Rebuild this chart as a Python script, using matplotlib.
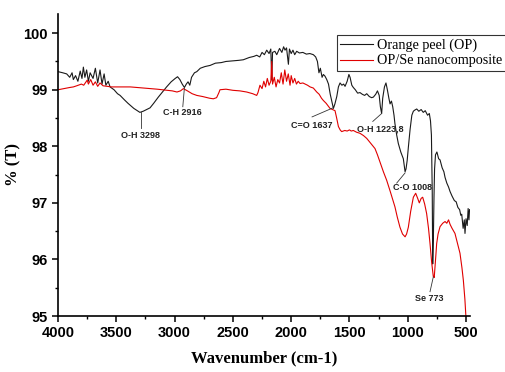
import matplotlib.pyplot as plt
from matplotlib.ticker import MultipleLocator

# FTIR spectra
op_wn = [4000, 3960, 3926, 3900, 3880, 3869, 3850, 3830, 3810, 3795, 3783, 3770, 3755, 3740,
         3725, 3700, 3680, 3660, 3640, 3623, 3605, 3590, 3570, 3554, 3520, 3490, 3468, 3430,
         3400, 3383, 3350, 3320, 3298, 3270, 3240, 3211, 3180, 3140, 3105, 3069, 3030, 2995,
         2975, 2955, 2935, 2916, 2900, 2885, 2870, 2855, 2830, 2810, 2780, 2740, 2696, 2650,
         2600, 2560, 2500, 2450, 2411, 2360, 2320, 2296, 2270, 2250, 2230, 2210, 2190, 2175,
         2167, 2160, 2140, 2124, 2100, 2080, 2065, 2053, 2040, 2024, 2015, 2000, 1985, 1970,
         1953, 1930, 1900, 1870, 1840, 1810, 1790, 1775, 1762, 1750, 1735, 1724, 1710, 1695,
         1680, 1665, 1652, 1638, 1625, 1609, 1595, 1581, 1565, 1550, 1538, 1520, 1505, 1495,
         1480, 1467, 1450, 1430, 1410, 1390, 1370, 1352, 1330, 1310, 1295, 1275, 1260, 1245,
         1235, 1224, 1215, 1200, 1187, 1175, 1162, 1152, 1140, 1129, 1118, 1110, 1095, 1081,
         1060, 1038, 1023, 1015, 1005, 995, 980, 965, 952, 940, 923, 905, 885, 867, 850, 830,
         815, 805, 797, 790, 786, 780, 775, 770, 762, 750, 735, 723, 705, 690, 680, 665, 650,
         637, 620, 600, 585, 570, 555, 545, 537, 525, 515, 509, 500, 490, 482, 475, 470]
op_t = [99.32, 99.30, 99.28, 99.22, 99.30, 99.18, 99.25, 99.15, 99.33, 99.20, 99.40, 99.22,
        99.35, 99.15, 99.30, 99.20, 99.38, 99.12, 99.35, 99.10, 99.28, 99.08, 99.15, 99.05,
        99.00, 98.93, 98.90, 98.82, 98.76, 98.73, 98.67, 98.63, 98.60, 98.62, 98.65, 98.68,
        98.76, 98.87, 98.96, 99.05, 99.14, 99.20, 99.23, 99.18, 99.10, 99.04, 99.10, 99.14,
        99.08, 99.22, 99.30, 99.32, 99.38, 99.41, 99.43, 99.47, 99.48, 99.50, 99.51, 99.52,
        99.53, 99.57, 99.59, 99.61, 99.58, 99.66, 99.62, 99.70, 99.64, 99.72, 99.17, 99.66,
        99.68, 99.62, 99.73, 99.66, 99.76, 99.70, 99.74, 99.45, 99.72, 99.64, 99.70, 99.62,
        99.68, 99.65, 99.66, 99.63, 99.64, 99.62, 99.58, 99.50, 99.30, 99.38, 99.22, 99.27,
        99.24, 99.18, 99.10, 98.92, 98.80, 98.67, 98.75, 98.88, 99.05, 99.12, 99.08, 99.10,
        99.06, 99.15, 99.27, 99.22, 99.08, 99.04, 99.00, 98.94, 98.95, 98.92, 98.90, 98.93,
        98.88, 98.86, 98.87, 98.92, 98.98, 98.90, 98.70, 98.58, 98.85, 99.05, 99.12, 99.00,
        98.85, 98.75, 98.80, 98.70, 98.55, 98.40, 98.20, 98.05, 97.90, 97.78, 97.55, 97.60,
        97.75, 97.98, 98.30, 98.55, 98.62, 98.64, 98.66, 98.62, 98.65, 98.60, 98.63, 98.55,
        98.58, 98.45, 98.20, 97.20, 95.92, 96.40, 97.10, 97.60, 97.85, 97.90, 97.78, 97.76,
        97.62, 97.55, 97.45, 97.35, 97.28, 97.20, 97.12, 97.04, 97.02, 96.92, 96.88, 96.78,
        96.80, 96.55, 96.70, 96.46, 96.72, 96.60, 96.90, 96.70, 96.88]

se_wn = [4000, 3950, 3900, 3869, 3840, 3800, 3780, 3760, 3750, 3740, 3720, 3700, 3680, 3660,
         3640, 3614, 3580, 3540, 3500, 3440, 3380, 3320, 3260, 3210, 3150, 3067, 3020, 2980,
         2950, 2925, 2890, 2850, 2810, 2760, 2700, 2668, 2640, 2620, 2611, 2560, 2500, 2440,
         2382, 2330, 2296, 2285, 2268, 2250, 2235, 2220, 2205, 2190, 2175, 2167, 2160, 2145,
         2130, 2115, 2100, 2085, 2070, 2055, 2040, 2025, 2010, 2000, 1985, 1970, 1955, 1940,
         1924, 1900, 1880, 1860, 1838, 1810, 1781, 1760, 1740, 1724, 1700, 1685, 1667, 1645,
         1624, 1610, 1595, 1580, 1567, 1540, 1520, 1500, 1485, 1467, 1440, 1410, 1380, 1352,
         1320, 1300, 1281, 1260, 1238, 1209, 1181, 1150, 1110, 1090, 1067, 1045, 1023, 1010,
         995, 975, 952, 932, 915, 901, 885, 872, 855, 838, 822, 809, 795, 781, 773, 766, 758,
         752, 740, 723, 700, 680, 665, 650, 637, 620, 595, 575, 552, 535, 523, 510, 500]
se_t = [99.00, 99.02, 99.04, 99.05, 99.07, 99.10, 99.08, 99.14, 99.17, 99.10, 99.18, 99.08,
        99.14, 99.06, 99.12, 99.07, 99.06, 99.05, 99.05, 99.05, 99.05, 99.04, 99.03, 99.02,
        99.01, 98.99, 98.98, 98.96, 98.98, 99.02, 98.98, 98.93, 98.90, 98.88, 98.85, 98.84,
        98.86, 98.95, 99.00, 99.01, 98.99, 98.98, 98.96, 98.93, 98.90, 98.95, 99.08, 99.02,
        99.15, 99.05, 99.20, 99.08, 99.15, 99.50, 99.10, 99.22, 99.05, 99.18, 99.12, 99.30,
        99.10, 99.35, 99.15, 99.28, 99.08, 99.25, 99.12, 99.20, 99.10, 99.15, 99.11, 99.12,
        99.10, 99.08, 99.05, 99.03, 98.96, 98.92, 98.85, 98.81, 98.76, 98.72, 98.67, 98.65,
        98.63, 98.50, 98.35, 98.29, 98.26, 98.28, 98.27, 98.29, 98.27, 98.28, 98.25, 98.23,
        98.19, 98.14, 98.06, 98.01, 97.96, 97.85, 97.72, 97.55, 97.40, 97.20, 96.93, 96.75,
        96.57, 96.45, 96.40, 96.45, 96.57, 96.85, 97.10, 97.17, 97.08, 97.00, 97.08, 97.10,
        96.98, 96.81, 96.55, 96.28, 95.95, 95.70, 95.68, 95.87, 96.10, 96.28, 96.45, 96.58,
        96.64, 96.67, 96.64, 96.70, 96.62, 96.55, 96.46, 96.30, 96.11, 95.85, 95.63, 95.30,
        94.95]

# peak labels: text, text position, point on curve
peak_labels = ["O-H 3298", "C-H 2916", "C=O 1637", "O-H 1223,8", "C-O 1008", "Se 773"]
label_pos = [(3297, 98.20), (2935, 98.59), (1821, 98.36), (1238, 98.30), (963, 97.27), (818, 95.31)]
line_start = [(3290, 98.32), (2930, 98.70), (1821, 98.52), (1300, 98.44), (1095, 97.35), (809, 95.43)]
line_end = [(3290, 98.60), (2916, 99.04), (1641, 98.68), (1224, 98.58), (1023, 97.53), (781, 95.69)]

fig = plt.figure(figsize=(5.05, 3.72), dpi=100)
ax = fig.add_axes([0.115, 0.1505, 0.8157, 0.812])

ax.plot(op_wn, op_t, color="#1a1a1a", lw=0.8, label="Orange peel (OP)")
ax.plot(se_wn, se_t, color="#e00000", lw=0.8, label="OP/Se nanocomposite")

for txt, (tx, ty), (x0, y0), (x1, y1) in zip(peak_labels, label_pos, line_start, line_end):
    ax.plot([x0, x1], [y0, y1], color="#333333", lw=0.6)
    ax.text(tx, ty, txt, ha="center", va="center", fontsize=6.5, fontweight="bold",
            family="Liberation Sans", color="#222222")

ax.set_xlim(4000, 466)
ax.set_ylim(95, 100.34)
ax.xaxis.set_major_locator(MultipleLocator(500))
ax.xaxis.set_minor_locator(MultipleLocator(250))
ax.yaxis.set_major_locator(MultipleLocator(1))
ax.yaxis.set_minor_locator(MultipleLocator(0.5))

for s in ["top", "right"]:
    ax.spines[s].set_visible(False)
for s in ["left", "bottom"]:
    ax.spines[s].set_linewidth(1.2)

ax.tick_params(which="major", direction="out", length=4, width=1.1)
ax.tick_params(which="minor", direction="out", length=2.5, width=1.0)
for lab in ax.get_xticklabels() + ax.get_yticklabels():
    lab.set_family("Liberation Sans")
    lab.set_fontweight("bold")
    lab.set_fontsize(10.5)

ax.set_xlabel("Wavenumber (cm-1)", family="Liberation Serif", fontweight="bold",
              fontsize=12, labelpad=7)
ax.set_ylabel("% (T)", family="Liberation Serif", fontweight="bold", fontsize=12,
              labelpad=1)

leg = fig.legend(loc="upper left", bbox_to_anchor=(0.667, 0.905),
                 prop={"family": "Liberation Serif", "size": 10.2},
                 frameon=True, fancybox=False, handlelength=2.3, handletextpad=0.3,
                 borderpad=0.25, labelspacing=0.15, borderaxespad=0)
leg.get_frame().set_edgecolor("black")
leg.get_frame().set_linewidth(0.8)

fig.savefig("out.png", dpi=100)
